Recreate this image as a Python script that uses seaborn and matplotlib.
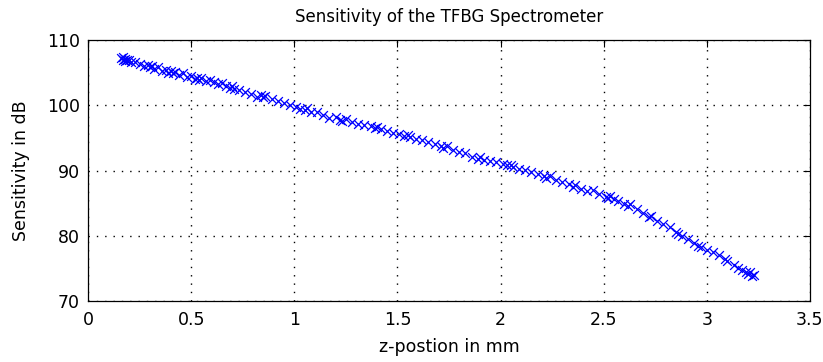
import matplotlib
matplotlib.use('Agg')
import matplotlib.pyplot as plt
import numpy as np
import pandas as pd
import seaborn as sns

# z-position (mm) and sensitivity (dB)
z_pos = [
    0.16, 0.17, 0.17, 0.18, 0.18, 0.19, 0.20, 0.21, 0.23, 0.25,
    0.27, 0.29, 0.30, 0.31, 0.32, 0.34, 0.36, 0.38, 0.39, 0.40,
    0.41, 0.42, 0.44, 0.46, 0.48, 0.50, 0.52, 0.53, 0.54, 0.55,
    0.57, 0.59, 0.61, 0.63, 0.65, 0.67, 0.69, 0.70, 0.71, 0.73,
    0.76, 0.79, 0.82, 0.84, 0.85, 0.86, 0.89, 0.92, 0.95, 0.98,
    1.01, 1.03, 1.05, 1.06, 1.08, 1.11, 1.14, 1.17, 1.20, 1.22,
    1.23, 1.25, 1.28, 1.31, 1.34, 1.37, 1.39, 1.40, 1.42, 1.45,
    1.48, 1.51, 1.53, 1.55, 1.56, 1.59, 1.62, 1.65, 1.68, 1.71,
    1.72, 1.74, 1.77, 1.80, 1.83, 1.86, 1.89, 1.90, 1.92, 1.95,
    1.98, 2.01, 2.03, 2.05, 2.06, 2.09, 2.12, 2.15, 2.18, 2.21,
    2.22, 2.24, 2.27, 2.30, 2.33, 2.35, 2.36, 2.39, 2.42, 2.45,
    2.48, 2.51, 2.52, 2.53, 2.55, 2.57, 2.60, 2.62, 2.63, 2.66,
    2.69, 2.72, 2.73, 2.76, 2.79, 2.82, 2.85, 2.86, 2.88, 2.91,
    2.94, 2.96, 2.97, 3.00, 3.03, 3.06, 3.09, 3.10, 3.13, 3.15,
    3.17, 3.19, 3.20, 3.21, 3.22, 3.23,
]
sens_db = [
    107.3, 107.0, 107.4, 107.1, 106.8, 107.0, 106.9, 106.6, 106.7, 106.3,
    106.0, 106.2, 105.8, 106.0, 105.6, 105.9, 105.2, 105.4, 105.0, 105.3,
    104.9, 105.1, 104.6, 105.0, 104.3, 104.5, 104.0, 104.2, 103.9, 104.1,
    103.7, 103.9, 103.5, 103.2, 103.4, 102.9, 102.7, 102.9, 102.5, 102.4,
    102.0, 101.8, 101.3, 101.5, 101.2, 101.4, 100.9, 100.6, 100.3, 100.1,
    99.8, 99.5, 99.2, 99.6, 99.0, 98.9, 98.5, 98.1, 98.2, 97.8,
    97.6, 97.9, 97.4, 97.2, 96.9, 96.8, 96.5, 96.7, 96.3, 96.0,
    95.8, 95.6, 95.3, 95.5, 95.1, 94.9, 94.7, 94.4, 94.0, 93.8,
    93.5, 93.7, 93.2, 92.9, 92.7, 92.1, 91.8, 92.0, 91.6, 91.4,
    91.3, 91.0, 90.8, 90.9, 90.6, 90.3, 90.1, 89.8, 89.5, 89.2,
    88.9, 89.1, 88.6, 88.2, 88.0, 87.5, 87.8, 87.2, 86.9, 87.0,
    86.4, 86.0, 85.8, 86.1, 85.6, 85.4, 84.9, 84.6, 84.8, 84.1,
    83.5, 82.9, 83.1, 82.3, 81.8, 81.3, 80.6, 80.3, 80.0, 79.5,
    78.9, 78.5, 78.2, 77.8, 77.5, 77.1, 76.5, 76.2, 75.5, 75.1,
    74.8, 74.5, 74.1, 74.4, 73.8, 74.0,
]
x_ticks = [0, 0.5, 1, 1.5, 2, 2.5, 3, 3.5]
x_tick_labels = ['0', '0.5', '1', '1.5', '2', '2.5', '3', '3.5']
y_ticks = [70, 80, 90, 100, 110]

df = pd.DataFrame({'z': z_pos, 'sens': sens_db})

sns.set_style("white")
plt.rcParams['font.family'] = ['DejaVu Sans']
plt.rcParams['text.color'] = 'black'
plt.rcParams['axes.labelcolor'] = 'black'

fig = plt.figure(figsize=(8.23, 3.62), dpi=100)
ax = fig.add_axes([0.107, 0.1685, 0.877, 0.721])

sns.scatterplot(data=df, x='z', y='sens', marker='x', color='#0000ff',
                s=40, linewidth=0.9, ax=ax, legend=False)

ax.set_xlim(0, 3.5)
ax.set_ylim(70, 110)
ax.set_xticks(x_ticks)
ax.set_xticklabels(x_tick_labels)
ax.set_yticks(y_ticks)
ax.grid(True, color='black', linestyle=(0, (1, 5)), linewidth=1.0)
ax.tick_params(axis='both', direction='in', top=True, right=True, length=5,
               labelsize=12.5, colors='black')
ax.tick_params(axis='x', pad=7)
ax.tick_params(axis='y', pad=6)
for sp in ax.spines.values():
    sp.set_color('black')
    sp.set_linewidth(0.9)

ax.set_xlabel('z-postion in mm', fontsize=12.5, labelpad=7, color='black')
ax.set_ylabel('Sensitivity in dB', fontsize=12.5, labelpad=12, color='black')
ax.set_title('Sensitivity of the TFBG Spectrometer', fontsize=12, pad=13,
             color='black')

fig.savefig('out.png', dpi=100)
